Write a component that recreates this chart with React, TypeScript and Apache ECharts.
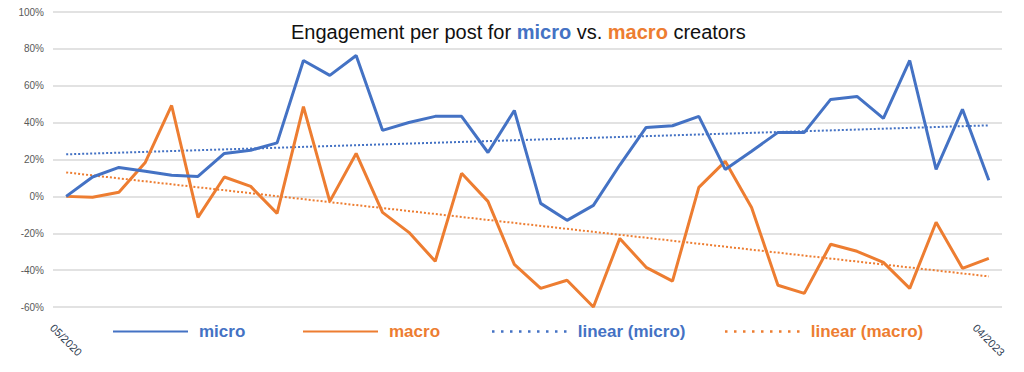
import React, { useEffect, useRef } from "react";
import * as echarts from "echarts";

const categories = [
  "05/2020", "06/2020", "07/2020", "08/2020", "09/2020", "10/2020", "11/2020", "12/2020",
  "01/2021", "02/2021", "03/2021", "04/2021", "05/2021", "06/2021", "07/2021", "08/2021",
  "09/2021", "10/2021", "11/2021", "12/2021", "01/2022", "02/2022", "03/2022", "04/2022",
  "05/2022", "06/2022", "07/2022", "08/2022", "09/2022", "10/2022", "11/2022", "12/2022",
  "01/2023", "02/2023", "03/2023", "04/2023",
];

const micro = [
  0, 10.5, 15.7, 13.6, 11.4, 10.8, 23.3, 25, 29, 73.7, 65.6, 76.4, 35.8, 40.1, 43.4, 43.4,
  23.8, 46.6, -3.8, -13, -4.9, 17, 37.4, 38.3, 43.4, 14.6, 24.5, 34.7, 34.7, 52.6, 54.2,
  42.3, 73.7, 14.6, 47.2, 8.7,
];

const macro = [
  0, -0.5, 2.2, 18.4, 49.3, -11.4, 10.5, 5.4, -9.2, 48.7, -2.7, 23.3, -8.7, -19.5, -35.2,
  12.5, -2.7, -36.9, -49.9, -45.5, -60, -22.8, -38.5, -46, 4.9, 19, -6, -48.2, -52.6, -26,
  -29.8, -35.8, -49.9, -14, -39, -33.6,
];

// trend line end values (first and last month)
const microTrend = [22.8, 38.5];
const macroTrend = [13, -43.4];

const yTicks = { min: -60, max: 100, interval: 20 };

const BLUE = "#4472C4";
const ORANGE = "#ED7D31";
const FONT = "'Liberation Sans', Arial, sans-serif";

// legend icon: a row of 9 small dots
let dotsPath = "path://";
for (let k = 0; k < 9; k++) {
  const x = k * 9;
  dotsPath += `M${x},0h2.5v2.5h-2.5z `;
}

export default function App() {
  const ref = useRef<HTMLDivElement>(null);

  useEffect(() => {
    document.body.style.margin = "0";
    if (!ref.current) return;
    const chart = echarts.init(ref.current, null, { renderer: "svg" });
    const last = categories.length - 1;

    const legendBase = {
      top: 318,
      itemWidth: 75,
      itemHeight: 16,
      itemStyle: { opacity: 0 },
      textStyle: {
        fontFamily: FONT,
        fontSize: 17,
        fontWeight: "bold" as const,
        padding: [0, 0, 0, 6],
      },
    };
    const dottedLegend = {
      top: 318,
      itemWidth: 75,
      itemHeight: 2.5,
      icon: dotsPath,
      textStyle: {
        fontFamily: FONT,
        fontSize: 17,
        fontWeight: "bold" as const,
        padding: [0, 0, 0, 6],
      },
    };

    chart.setOption({
      animation: false,
      backgroundColor: "#ffffff",
      title: {
        text: "Engagement per post for {b|micro} vs. {o|macro} creators",
        left: 286,
        top: 17,
        textStyle: {
          fontFamily: FONT,
          fontSize: 20,
          fontWeight: "normal",
          color: "#111111",
          rich: {
            b: { fontFamily: FONT, fontSize: 20, fontWeight: "bold", color: BLUE },
            o: { fontFamily: FONT, fontSize: 20, fontWeight: "bold", color: ORANGE },
          },
        },
      },
      legend: [
        { ...legendBase, left: 107, data: ["micro"], textStyle: { ...legendBase.textStyle, color: BLUE } },
        { ...legendBase, left: 297, data: ["macro"], textStyle: { ...legendBase.textStyle, color: ORANGE } },
        {
          ...dottedLegend,
          left: 487,
          data: [{ name: "linear (micro)", itemStyle: { color: BLUE, opacity: 1 } }],
          textStyle: { ...dottedLegend.textStyle, color: BLUE },
        },
        {
          ...dottedLegend,
          left: 720,
          data: [{ name: "linear (macro)", itemStyle: { color: ORANGE, opacity: 1 } }],
          textStyle: { ...dottedLegend.textStyle, color: ORANGE },
        },
      ],
      grid: { left: 53, right: 22, top: 12, bottom: 65, containLabel: false },
      xAxis: {
        type: "category",
        data: categories,
        boundaryGap: true,
        axisLine: { show: false },
        axisTick: { show: false },
        splitLine: { show: false },
        axisLabel: {
          interval: (i: number) => i === 0 || i === last,
          rotate: -45,
          align: "center",
          verticalAlign: "middle",
          margin: 33,
          color: "#2f3d52",
          fontFamily: FONT,
          fontSize: 11,
        },
      },
      yAxis: {
        type: "value",
        min: yTicks.min,
        max: yTicks.max,
        interval: yTicks.interval,
        axisLine: { show: false },
        axisTick: { show: false },
        axisLabel: {
          formatter: "{value}%",
          color: "#595959",
          fontFamily: FONT,
          fontSize: 10,
          margin: 9,
        },
        splitLine: { lineStyle: { color: "#d9d9d9", width: 1.5 } },
      },
      series: [
        {
          name: "micro",
          type: "line",
          data: micro,
          symbol: "none",
          showSymbol: false,
          color: BLUE,
          lineStyle: { color: BLUE, width: 3 },
          z: 4,
        },
        {
          name: "macro",
          type: "line",
          data: macro,
          symbol: "none",
          showSymbol: false,
          color: ORANGE,
          lineStyle: { color: ORANGE, width: 3 },
          z: 3,
        },
        {
          name: "linear (micro)",
          type: "line",
          data: [
            [categories[0], microTrend[0]],
            [categories[last], microTrend[1]],
          ],
          symbol: "none",
          showSymbol: false,
          color: BLUE,
          lineStyle: { color: BLUE, width: 2, type: "dotted" },
          z: 2,
        },
        {
          name: "linear (macro)",
          type: "line",
          data: [
            [categories[0], macroTrend[0]],
            [categories[last], macroTrend[1]],
          ],
          symbol: "none",
          showSymbol: false,
          color: ORANGE,
          lineStyle: { color: ORANGE, width: 2, type: "dotted" },
          z: 2,
        },
      ],
    });

    return () => chart.dispose();
  }, []);

  return <div ref={ref} style={{ width: 1024, height: 372 }} />;
}
